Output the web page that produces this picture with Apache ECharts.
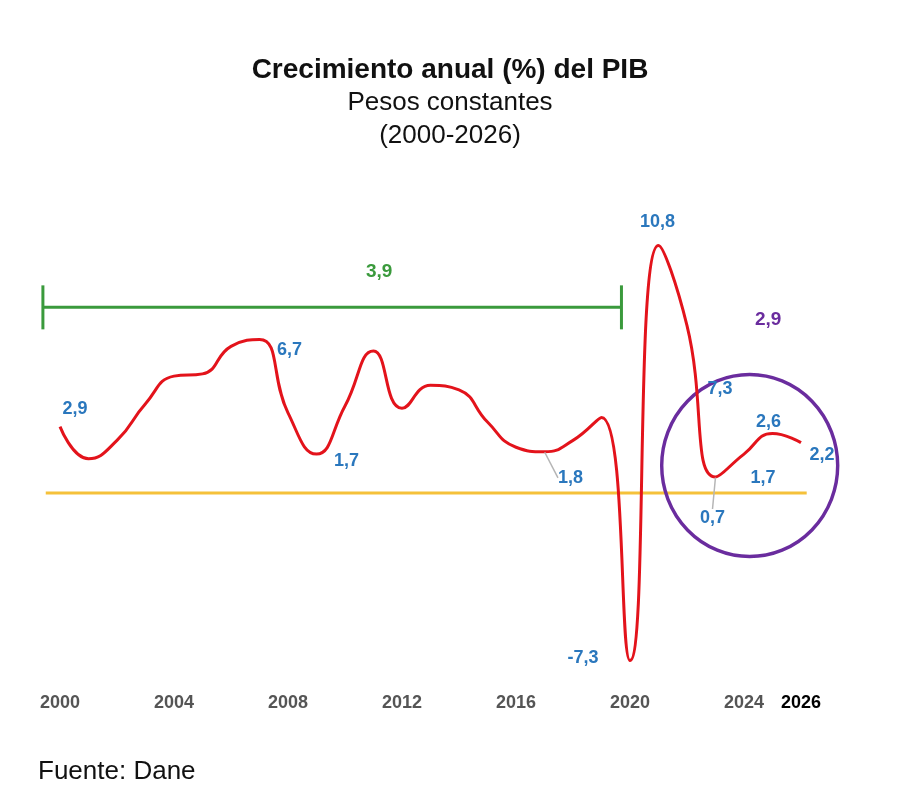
<!DOCTYPE html>
<html>
<meta charset="UTF-8">
<title>pib-colombia</title>
<style type="text/css">
    html,
    body {
        margin: 0px;
        height: 100%;
        width: 100%;
        background: #fff;
    }

    #chart {
        width: 912px;
        height: 796px;
    }
</style>
<script src="https://cdn.jsdelivr.net/npm/echarts@6/dist/echarts.min.js"></script>

<body>
    <div id="chart"></div>
    <script>
        // datos
        const years = [2000, 2001, 2002, 2003, 2004, 2005, 2006, 2007, 2008, 2009,
            2010, 2011, 2012, 2013, 2014, 2015, 2016, 2017, 2018, 2019,
            2020, 2021, 2022, 2023, 2024, 2025, 2026];
        const growth = [2.9, 1.5, 2.3, 3.9, 5.1, 5.2, 6.4, 6.7, 3.5, 1.7,
            3.8, 6.2, 3.7, 4.7, 4.5, 3.1, 2.0, 1.8, 2.3, 3.3,
            -7.3, 10.8, 7.3, 0.7, 1.7, 2.6, 2.2];
        const tickYears = [2000, 2004, 2008, 2012, 2016, 2020, 2024, 2026];
        const labeledYears = [2000, 2007, 2009, 2017, 2020, 2021, 2022, 2023, 2024, 2025, 2026];

        const avgPeriod = [1999.4, 2019.7];   // promedio 2000-2020
        const avgValue = 3.9;
        const recentAvg = 2.9;                // promedio 2022-2026

        const blue = '#2a77bd';
        const green = '#3a9a3c';
        const purple = '#6a2c9e';
        const fmt = v => String(v).replace('.', ',');

        // desplazamiento de cada etiqueta respecto a su punto
        const labelOffset = {
            2000: [15, -18],
            2007: [30, 11],
            2009: [30, 7],
            2017: [26, 26],
            2020: [-47, -2],
            2021: [-1, -23],
            2022: [33, 63],
            2023: [-3, 41],
            2024: [19, 24],
            2025: [-4, -11],
            2026: [21, 12]
        };
        // etiquetas con linea guia
        const guided = [2017, 2023];

        const font = 'Liberation Sans';
        const chart = echarts.init(document.querySelector('#chart'));
        const options = {
            animation: false,
            title: [
                {
                    text: 'Crecimiento anual (%) del PIB',
                    left: 445, top: 51, textAlign: 'center',
                    textStyle: { fontFamily: font, fontSize: 28, fontWeight: 'bold', color: '#111' }
                },
                {
                    text: 'Pesos constantes',
                    left: 445, top: 85, textAlign: 'center',
                    textStyle: { fontFamily: font, fontSize: 26, fontWeight: 'normal', color: '#111' }
                },
                {
                    text: '(2000-2026)',
                    left: 445, top: 118, textAlign: 'center',
                    textStyle: { fontFamily: font, fontSize: 26, fontWeight: 'normal', color: '#111' }
                },
                {
                    text: 'Fuente: Dane',
                    left: 33, top: 754,
                    textStyle: { fontFamily: font, fontSize: 26, fontWeight: 'normal', color: '#111' }
                }
            ],
            grid: { left: 31.5, right: 82.5, top: 195, bottom: 108 },
            xAxis: {
                type: 'value',
                min: 1999,
                max: 2027,
                axisLine: { show: false },
                axisTick: { show: false },
                splitLine: { show: false },
                axisLabel: {
                    customValues: tickYears,
                    margin: 6,
                    fontFamily: font,
                    fontSize: 18,
                    fontWeight: 'bold',
                    color: '#555',
                    formatter: v => v === 2026 ? '{b|2026}' : String(v),
                    rich: { b: { fontFamily: font, fontSize: 18, fontWeight: 'bold', color: '#000' } }
                }
            },
            yAxis: {
                type: 'value',
                min: -8.5,
                max: 13,
                show: false
            },
            series: [
                {
                    // linea del cero
                    type: 'line',
                    data: [[1999.5, 0], [2026.2, 0]],
                    symbol: 'none',
                    lineStyle: { color: '#f5c13a', width: 3 },
                    z: 1
                },
                {
                    // circulo del periodo reciente
                    type: 'scatter',
                    data: [[2024.2, 1.2]],
                    symbol: 'circle',
                    symbolSize: [176, 182],
                    itemStyle: { color: 'rgba(0,0,0,0)', borderColor: purple, borderWidth: 3.5, opacity: 1 },
                    silent: true,
                    z: 2
                },
                {
                    // barra del promedio 2000-2020
                    type: 'line',
                    data: avgPeriod.map(x => [x, 8.1]),
                    symbol: 'rect',
                    symbolSize: [3, 44],
                    itemStyle: { color: green },
                    lineStyle: { color: green, width: 3 },
                    z: 2
                },
                {
                    type: 'line',
                    data: years.map((y, i) => [y, growth[i]]),
                    smooth: 0.5,
                    symbol: 'none',
                    lineStyle: { color: '#e3131b', width: 3 },
                    z: 3
                },
                {
                    // etiquetas de valores
                    type: 'scatter',
                    data: labeledYears.map(y => ({
                        value: [y, growth[years.indexOf(y)]],
                        labelLine: { show: guided.includes(y) }
                    })),
                    symbolSize: 1,
                    itemStyle: { color: 'rgba(0,0,0,0)', opacity: 1 },
                    label: {
                        show: true,
                        position: 'inside',
                        formatter: p => fmt(p.value[1]),
                        fontFamily: font,
                        fontSize: 18,
                        fontWeight: 'bold',
                        color: blue
                    },
                    labelLayout: p => {
                        const o = labelOffset[labeledYears[p.dataIndex]];
                        return { dx: o[0], dy: o[1] };
                    },
                    labelLine: {
                        show: false,
                        lineStyle: { color: '#b5b5b5', width: 1.5 }
                    },
                    silent: true,
                    z: 4
                },
                {
                    // etiquetas de promedios
                    type: 'scatter',
                    data: [
                        { value: [2011.2, 9.65], name: fmt(avgValue), label: { color: green } },
                        { value: [2024.85, 7.55], name: fmt(recentAvg), label: { color: purple } }
                    ],
                    symbolSize: 1,
                    itemStyle: { color: 'rgba(0,0,0,0)', opacity: 1 },
                    label: {
                        show: true,
                        position: 'inside',
                        formatter: p => p.name,
                        fontFamily: font,
                        fontSize: 19,
                        fontWeight: 'bold'
                    },
                    silent: true,
                    z: 4
                }
            ]
        };
        chart.setOption(options);

    </script>
</body>

</html>
